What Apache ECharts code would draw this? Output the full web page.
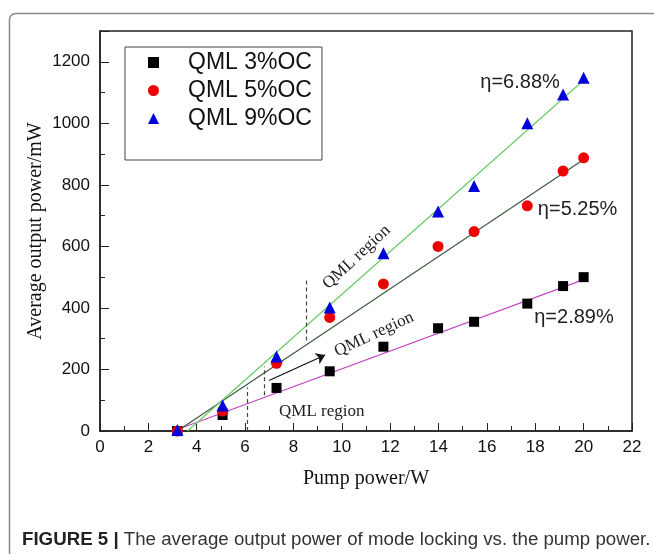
<!DOCTYPE html>
<html>
<head>
<meta charset="utf-8">
<script src="https://cdn.jsdelivr.net/npm/echarts@6/dist/echarts.min.js"></script>
<style>
  html, body { margin: 0; padding: 0; background: #fff; }
  #chart { width: 654px; height: 554px; }
</style>
</head>
<body>
<div id="chart"></div>
<script>
  // pump power (W) for every measurement
  const pump = [3.2, 5.07, 7.3, 9.5, 11.72, 13.98, 15.47, 17.67, 19.15, 20.0];
  // average output power (mW)
  const oc3 = [0, 52, 140, 194, 274, 334, 355, 414, 471, 500];
  const oc5 = [0, 65, 220, 369, 478, 600, 648, 732, 845, 888];
  const oc9 = [3, 83, 242, 401, 578, 713, 796, 1000, 1094, 1148];
  // linear fits: [start, end]
  const fit3 = [[3.2, 5], [20, 492]];
  const fit5 = [[3.2, 0], [20, 882]];
  const fit9 = [[3.62, 0], [20, 1140]];
  const seriesNames = ['QML 3%OC', 'QML 5%OC', 'QML 9%OC'];
  const xTicks = { min: 0, max: 22, interval: 2 };
  const yTicks = { min: 0, max: 1300, interval: 200 };
  // slope labels [x, y, text]
  const etaLabels = [[17.37, 1132, 'η=6.88%'], [19.75, 720, 'η=5.25%'], [19.6, 369, 'η=2.89%']];
  // QML region texts [x, y, rotate]
  const regionLabels = [[10.61, 565, 43], [11.33, 314, 25], [9.17, 62, 0]];
  // dashed boundaries [x, yFrom, yTo]
  const boundaries = [[8.52, 294, 494], [6.78, 116, 210], [6.09, 0, 141]];
  const arrow = [[6.99, 164], [9.31, 247]];

  const pts = (ys) => pump.map((x, i) => [x, ys[i]]);
  const serif = 'Liberation Serif';
  const sans = 'Liberation Sans';

  const chart = echarts.init(document.getElementById('chart'));
  chart.setOption({
    animation: false,
    backgroundColor: '#fff',
    grid: { left: 100, right: 22, top: 31, bottom: 123, show: true, borderColor: '#222', borderWidth: 1.5 },
    legend: {
      data: seriesNames,
      orient: 'vertical',
      left: 125, top: 47,
      padding: [4, 10, 30, 23],
      itemWidth: 11, itemHeight: 11, itemGap: 5,
      borderColor: '#444', borderWidth: 1,
      textStyle: { fontFamily: sans, fontSize: 23, color: '#111', padding: [0, 0, 0, 24] }
    },
    xAxis: {
      type: 'value', ...xTicks,
      name: 'Pump power/W', nameLocation: 'middle', nameGap: 38, nameMoveOverlap: false,
      nameTextStyle: { fontFamily: serif, fontSize: 20, color: '#111' },
      axisLine: { lineStyle: { color: '#222', width: 1.5 } },
      axisTick: { inside: true, length: 8, lineStyle: { color: '#222' } },
      minorTick: { show: true, splitNumber: 2, length: 5, lineStyle: { color: '#222' } },
      axisLabel: { fontFamily: sans, fontSize: 17, color: '#111', margin: 8 },
      splitLine: { show: false }
    },
    yAxis: {
      type: 'value', ...yTicks,
      name: 'Average output power/mW', nameLocation: 'middle', nameGap: 54, nameMoveOverlap: false,
      nameTextStyle: { fontFamily: serif, fontSize: 20, color: '#111' },
      axisLine: { show: true, lineStyle: { color: '#222', width: 1.5 } },
      axisTick: { show: true, inside: true, length: 9, lineStyle: { color: '#222' } },
      minorTick: { show: true, splitNumber: 2, length: 5, lineStyle: { color: '#222' } },
      axisLabel: { fontFamily: sans, fontSize: 17, color: '#111', margin: 10, showMaxLabel: false,
        formatter: (v) => String(v) },
      splitLine: { show: false }
    },
    graphic: [
      { type: 'rect', left: 7, top: 11, shape: { width: 680, height: 580, r: 6 },
        style: { fill: 'none', stroke: '#888', lineWidth: 1.5 }, silent: true },
      { type: 'text', left: 22, top: 530,
        style: {
          text: '{b|FIGURE 5 |} The average output power of mode locking vs. the pump power.',
          fontFamily: sans, fontSize: 18.7, fill: '#333',
          rich: { b: { fontFamily: sans, fontSize: 18.7, fontWeight: 'bold', fill: '#222' } }
        } }
    ],
    series: [
      { name: 'fit3', type: 'line', data: fit3, symbol: 'none', silent: true,
        lineStyle: { color: '#c44ac4', width: 1.2 } },
      { name: 'fit5', type: 'line', data: fit5, symbol: 'none', silent: true,
        lineStyle: { color: '#3d5a3d', width: 1.2 } },
      { name: 'fit9', type: 'line', data: fit9, symbol: 'none', silent: true,
        lineStyle: { color: '#66cc66', width: 1.2 } },
      { name: seriesNames[0], type: 'scatter', data: pts(oc3), symbol: 'rect', symbolSize: 10,
        itemStyle: { color: '#000', opacity: 1 }, z: 5 },
      { name: seriesNames[1], type: 'scatter', data: pts(oc5), symbol: 'circle', symbolSize: 11,
        itemStyle: { color: '#ee0000', opacity: 1 }, z: 5 },
      { name: seriesNames[2], type: 'scatter', data: pts(oc9), symbol: 'triangle', symbolSize: 12,
        itemStyle: { color: '#0000dd', opacity: 1 }, z: 6 },
      {
        name: 'notes', type: 'line', data: [], silent: true,
        markLine: {
          silent: true, animation: false,
          label: { show: false },
          data: boundaries.map(b => [
            { coord: [b[0], b[1]], symbol: 'none', lineStyle: { type: [4, 3], color: '#444', width: 1.2 } },
            { coord: [b[0], b[2]], symbol: 'none' }
          ]).concat([[
            { coord: arrow[0], symbol: 'none', lineStyle: { type: 'solid', color: '#111', width: 1.2 } },
            { coord: arrow[1], symbol: 'arrow', symbolSize: 9 }
          ]])
        },
        markPoint: {
          silent: true, animation: false, symbolSize: 0,
          data: etaLabels.map(e => ({
            coord: [e[0], e[1]], value: e[2],
            label: { show: true, formatter: e[2], fontFamily: sans, fontSize: 20, color: '#222' }
          })).concat(regionLabels.map(r => ({
            coord: [r[0], r[1]], value: 'QML region',
            label: { show: true, formatter: 'QML region', rotate: r[2], fontFamily: serif, fontSize: 17, color: '#222' }
          })))
        }
      }
    ]
  });
</script>
</body>
</html>
